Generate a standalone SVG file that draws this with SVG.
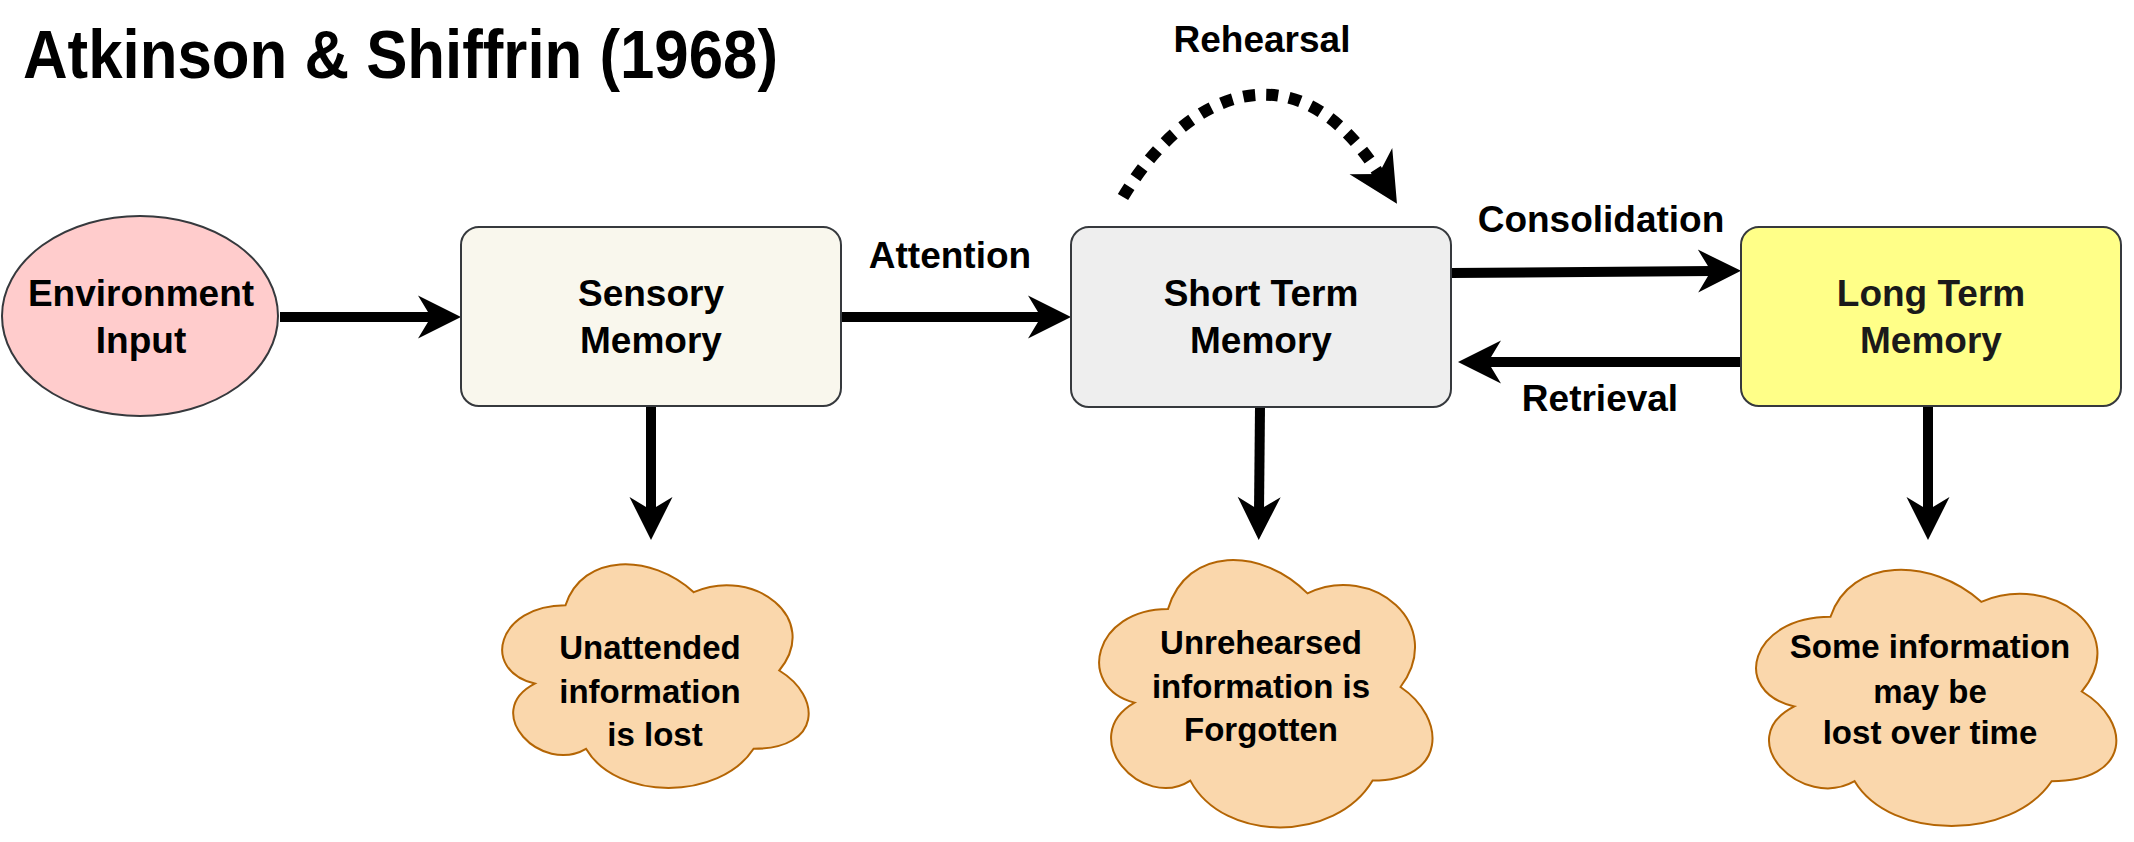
<svg xmlns="http://www.w3.org/2000/svg" width="2134" height="842" viewBox="0 0 2134 842">
<style>
text{font-family:"Liberation Sans",Arial,sans-serif;font-weight:bold;fill:#000;text-anchor:middle}
.lbl{font-size:37px}
.cl{font-size:33px}
.box{stroke:#36393d;stroke-width:2}
.cloud{fill:#fad7ac;stroke:#b46504;stroke-width:2}
.edge{fill:none;stroke:#000;stroke-width:10;marker-end:url(#arr)}
.dots{fill:none;stroke:#000;stroke-width:12;stroke-dasharray:12 11;marker-end:url(#arr2)}
</style>
<defs>
<marker id="arr" markerUnits="userSpaceOnUse" markerWidth="43" markerHeight="43" viewBox="0 0 43 43" refX="15" refY="21.5" orient="auto" overflow="visible">
<path d="M0,0 L43,21.5 L0,43 L13,21.5 Z" fill="#000"/>
</marker>
<marker id="arr2" markerUnits="userSpaceOnUse" markerWidth="50" markerHeight="50" viewBox="0 0 43 43" refX="15" refY="21.5" orient="auto" overflow="visible">
<path d="M0,0 L43,21.5 L0,43 L13,21.5 Z" fill="#000"/>
</marker>
</defs>
<rect width="2134" height="842" fill="#fff"/>
<text x="23" y="78" style="font-size:68px;text-anchor:start" textLength="755" lengthAdjust="spacingAndGlyphs">Atkinson &amp; Shiffrin (1968)</text>

<g id="connectors">
<path class="edge" d="M280,317 H433"/>
<path class="edge" d="M841,317 H1043"/>
<path class="edge" d="M1451,273 L1713,271"/>
<path class="edge" d="M1741,362 H1486"/>
<path class="edge" d="M651,406 V512"/>
<path class="edge" d="M1260,407 L1259,512"/>
<path class="edge" d="M1928,406 V512"/>
<path class="dots" d="M1123,197 C1189,87 1300,45 1380,176"/>
<text class="lbl" x="950" y="268">Attention</text>
<text class="lbl" x="1601" y="232">Consolidation</text>
<text class="lbl" x="1600" y="411">Retrieval</text>
<text class="lbl" x="1262" y="52">Rehearsal</text>
</g>

<g id="env">
<ellipse cx="140" cy="316" rx="138" ry="100" fill="#ffcccc" class="box"/>
<text class="lbl" x="141" y="306">Environment</text>
<text class="lbl" x="141" y="353">Input</text>
</g>
<g id="sensory">
<rect x="461" y="227" width="380" height="179" rx="18" fill="#f9f7ed" class="box"/>
<text class="lbl" x="651" y="306">Sensory</text>
<text class="lbl" x="651" y="353">Memory</text>
</g>
<g id="stm">
<rect x="1071" y="227" width="380" height="180" rx="18" fill="#eeeeee" class="box"/>
<text class="lbl" x="1261" y="306">Short Term</text>
<text class="lbl" x="1261" y="353">Memory</text>
</g>
<g id="ltm">
<rect x="1741" y="227" width="380" height="179" rx="18" fill="#ffff88" class="box"/>
<text class="lbl" x="1931" y="306" style="fill:#1a1a1a">Long Term</text>
<text class="lbl" x="1931" y="353" style="fill:#1a1a1a">Memory</text>
</g>

<g id="cloud1">
<path class="cloud" d="M565.5,605.25 C497.1,605.25 480,670.5 534.7,683.55 C480,712.26 541.6,774.9 586,748.8 C616.8,801 719.4,801 753.6,748.8 C822,748.8 822,696.6 779.25,670.5 C822,618.3 753.6,566.1 693.75,592.2 C651,553.05 582.6,553.05 565.5,605.25 Z"/>
<text class="cl" x="650" y="659">Unattended</text>
<text class="cl" x="650" y="703">information</text>
<text class="cl" x="655" y="746">is lost</text>
</g>
<g id="cloud2">
<path class="cloud" d="M1168,609 C1093.6,609 1075,687 1134.52,702.6 C1075,736.92 1141.96,811.8 1190.32,780.6 C1223.8,843 1335.4,843 1372.6,780.6 C1447,780.6 1447,718.2 1400.5,687 C1447,624.6 1372.6,562.2 1307.5,593.4 C1261,546.6 1186.6,546.6 1168,609 Z"/>
<text class="cl" x="1261" y="654">Unrehearsed</text>
<text class="cl" x="1261" y="698">information is</text>
<text class="cl" x="1261" y="741">Forgotten</text>
</g>
<g id="cloud3">
<path class="cloud" d="M1830.5,616.75 C1750.1,616.75 1730,691.5 1794.32,706.45 C1730,739.34 1802.36,811.1 1854.62,781.2 C1890.8,841 2011.4,841 2051.6,781.2 C2132,781.2 2132,721.4 2081.75,691.5 C2132,631.7 2051.6,571.9 1981.25,601.8 C1931,556.95 1850.6,556.95 1830.5,616.75 Z"/>
<text class="cl" x="1930" y="658">Some information</text>
<text class="cl" x="1930" y="703">may be</text>
<text class="cl" x="1930" y="744">lost over time</text>
</g>
</svg>
